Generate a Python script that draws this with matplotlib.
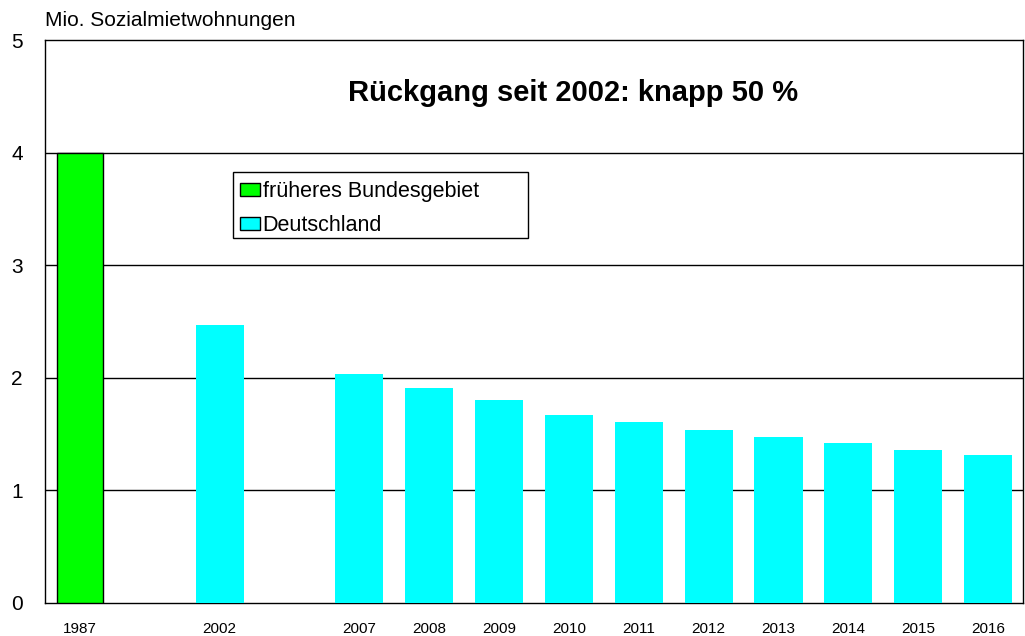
import matplotlib
matplotlib.use("Agg")
from matplotlib import pyplot as plt
from matplotlib.patches import Patch, Rectangle

plt.rcParams['font.family'] = ['Liberation Sans', 'DejaVu Sans']

# daten
jahre = ["1987", "", "2002", "", "2007", "2008", "2009", "2010", "2011",
         "2012", "2013", "2014", "2015", "2016"]
west = [4.0, None, None, None, None, None, None, None, None, None, None, None, None, None]
deutschland = [None, None, 2.47, None, 2.03, 1.91, 1.80, 1.67, 1.61,
               1.54, 1.47, 1.42, 1.36, 1.31]

fig = plt.figure(figsize=(10.25, 6.36), dpi=100)
ax = fig.add_axes([45/1025, 33/636, 978/1025, 563/636])

x = list(range(len(jahre)))
for i in x:
    if west[i] is not None:
        ax.bar(i, west[i], width=0.67, color="#00ff00", edgecolor="black", linewidth=1, zorder=3)
    if deutschland[i] is not None:
        ax.bar(i, deutschland[i], width=0.69, color="#00ffff", edgecolor="none", zorder=3)

ax.set_xlim(-0.5, len(jahre) - 0.5)
ax.set_ylim(0, 5)
ax.set_yticks([0, 1, 2, 3, 4, 5])
ax.set_yticklabels(["0", "1", "2", "3", "4", "5"], fontsize=15)
ax.set_xticks(x)
ax.set_xticklabels(jahre, fontsize=11)
ax.tick_params(axis="both", length=0)
ax.tick_params(axis="y", pad=16)
ax.tick_params(axis="x", pad=14)
for y in [1, 2, 3, 4]:
    ax.axhline(y, color="black", linewidth=1, zorder=1)
for s in ax.spines.values():
    s.set_linewidth(1)

# beschriftungen
fig.text(45/1025, 1 - 20/636, "Mio. Sozialmietwohnungen", fontsize=15, va="center", ha="left")
fig.text(573/1025, 1 - 93/636, "Rückgang seit 2002: knapp 50 %",
         fontsize=21, fontweight="bold", ha="center", va="center")

# legende mit eigenem rahmen
fig.add_artist(Rectangle((233/1025, 1 - 238/636), 295/1025, 66/636, transform=fig.transFigure,
                         facecolor="white", edgecolor="black", linewidth=1, zorder=4))
handles = [Patch(facecolor="#00ff00", edgecolor="black", label="früheres Bundesgebiet"),
           Patch(facecolor="#00ffff", edgecolor="black", label="Deutschland")]
leg = fig.legend(handles=handles, loc="upper left", bbox_to_anchor=(240/1025, 1 - 181/636),
                 bbox_transform=fig.transFigure, fontsize=15.5, frameon=False,
                 handlelength=0.95, handleheight=0.55, handletextpad=0.1, borderpad=0,
                 labelspacing=0.6, borderaxespad=0)
leg.set_zorder(5)

fig.savefig("out.png")
